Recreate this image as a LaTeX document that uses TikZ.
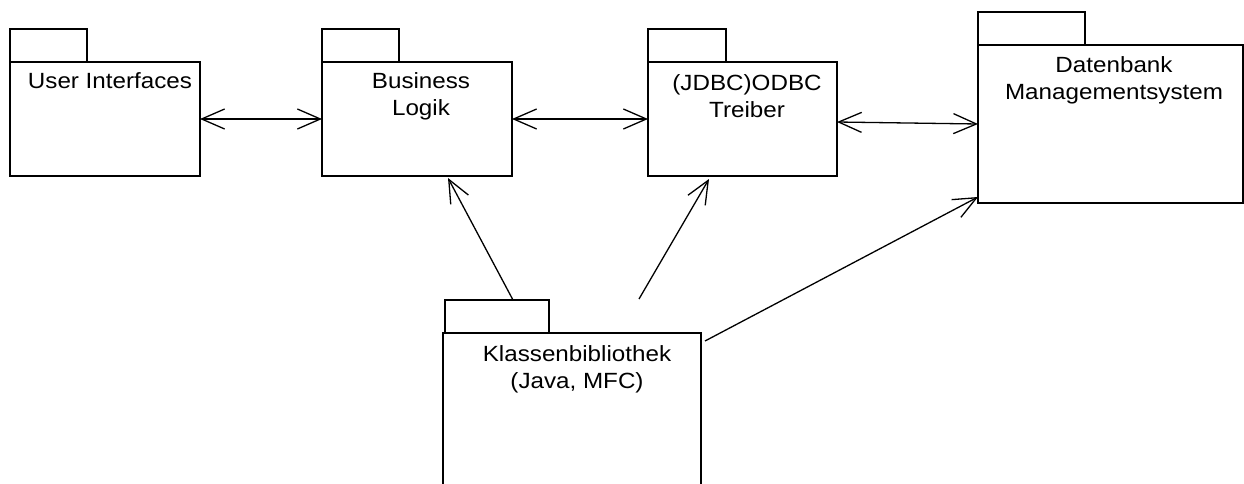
\documentclass[tikz,border=0pt]{standalone}
\usepackage{fontspec}
\setmainfont{Liberation Sans}[FakeStretch=1.1]
\usetikzlibrary{arrows.meta,calc}

% strut fixing the height of the first label line
\newcommand{\lbltop}{\rule{0pt}{17pt}}

\begin{document}
\begin{tikzpicture}[
    x=1pt, y=-1pt,
    line width=1.3pt,
    pkgbox/.style={draw, anchor=north west, inner sep=0pt, outer sep=0pt},
    pkglabel/.style={anchor=north, inner sep=0pt, align=center,
                     font=\fontsize{22}{27}\selectfont},
    link/.style={-{Straight Barb[length=23pt,width=20pt]}},
    bilink/.style={{Straight Barb[length=23pt,width=20pt]}-{Straight Barb[length=23pt,width=20pt]}}
  ]
  \useasboundingbox (0,0) rectangle (1244,484);
  \clip (0,0) rectangle (1244,484);

  % User Interfaces
  \node[pkgbox, minimum width=77pt, minimum height=33pt] (uitab) at (10,29) {};
  \node[pkgbox, minimum width=190pt, minimum height=114pt] (ui) at (10,62) {};
  \node[pkglabel, anchor=base] (uilbl) at (110,89) {User Interfaces};

  % Business Logik
  \node[pkgbox, minimum width=77pt, minimum height=33pt] (bltab) at (322,29) {};
  \node[pkgbox, minimum width=190pt, minimum height=114pt] (bl) at (322,62) {};
  \node[pkglabel] (bllbl) at (421,71) {\lbltop Business\\Logik};

  % (JDBC)ODBC Treiber
  \node[pkgbox, minimum width=78pt, minimum height=33pt] (jdtab) at (648,29) {};
  \node[pkgbox, minimum width=189pt, minimum height=114pt] (jd) at (648,62) {};
  \node[pkglabel] (jdlbl) at (747,73) {\lbltop (JDBC)ODBC\\Treiber};

  % Datenbank Managementsystem
  \node[pkgbox, minimum width=107pt, minimum height=33pt] (dbtab) at (978,12) {};
  \node[pkgbox, minimum width=265pt, minimum height=158pt] (db) at (978,45) {};
  \node[pkglabel] (dblbl) at (1114,55) {\lbltop Datenbank\\Managementsystem};

  % Klassenbibliothek
  \node[pkgbox, minimum width=104pt, minimum height=33pt] (kltab) at (445,300) {};
  \node[pkgbox, minimum width=258pt, minimum height=170pt] (kl) at (443,333) {};
  \node[pkglabel] (kllbl) at (577,344) {\lbltop Klassenbibliothek\\(Java, MFC)};

  % dependencies between the layers
  \draw[bilink] (ui.east) -- (bl.west);
  \draw[bilink] (bl.east) -- (jd.west);
  \draw[bilink] ([yshift=-3pt]jd.east) -- (db.west);

  \coordinate (klmid) at (639,299);
  \draw[link] ($(kltab.north west)+(68,0)$) -- ($(bl.south west)+(126,2)$);
  \draw[link] (klmid) -- ($(jd.south west)+(61,3)$);
  \draw[link] ($(kl.north east)+(4,8)$) -- ($(db.south west)+(0,-6)$);
\end{tikzpicture}
\end{document}
